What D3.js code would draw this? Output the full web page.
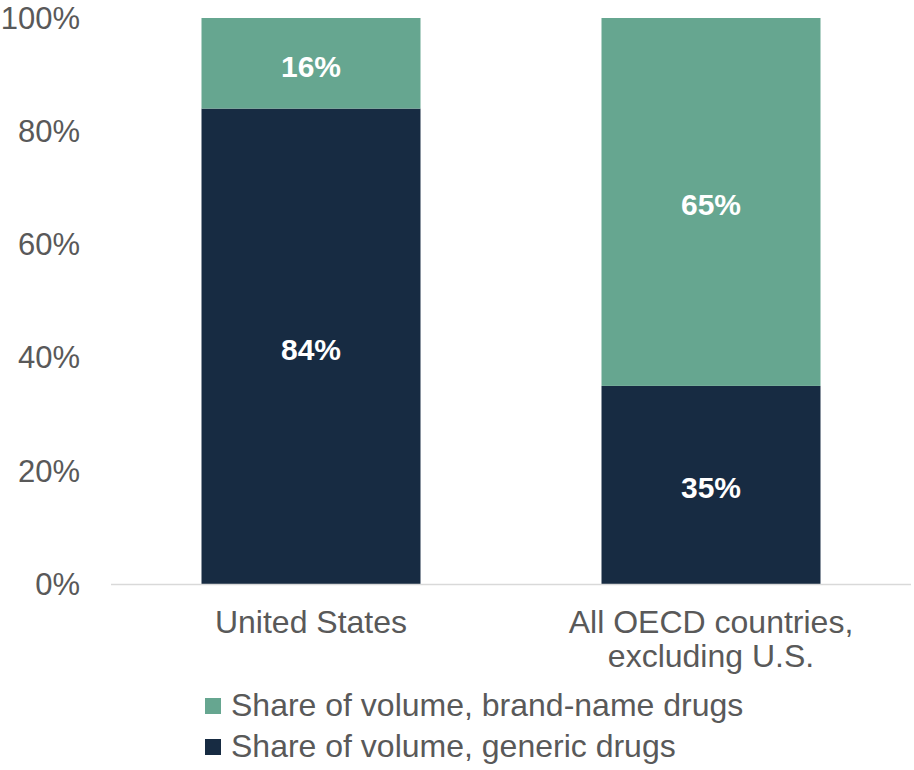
<!DOCTYPE html>
<html>
<head>
<meta charset="utf-8">
<script src="https://cdn.jsdelivr.net/npm/d3@7"></script>
<style>
  body { margin: 0; background: #fff; }
  text { font-family: "Liberation Sans", Arial, sans-serif; }
  .tick-text { fill: #595959; font-size: 31px; }
  .cat-text, .legend-text { fill: #595959; font-size: 32px; }
  .bar-label { fill: #fff; font-size: 30px; font-weight: bold; }
</style>
</head>
<body>
<svg id="chart" width="914" height="770"></svg>
<script>
// data
var categories = [["United States"], ["All OECD countries,", "excluding U.S."]];
var generic = [84, 35];
var brand = [16, 65];
var seriesNames = ["Share of volume, brand-name drugs", "Share of volume, generic drugs"];
var yTicks = [0, 20, 40, 60, 80, 100];

var colors = { brand: "#66a690", generic: "#172b42" };

var svg = d3.select("#chart");
var plotLeft = 111, plotRight = 911, plotTop = 18, plotBottom = 584;

var x = d3.scaleBand()
    .domain(d3.range(categories.length))
    .range([plotLeft, plotRight])
    .paddingInner(0.4525)
    .paddingOuter(0.22625);

var y = d3.scaleLinear().domain([0, 100]).range([plotBottom, plotTop]);

// y tick labels
svg.append("g")
    .selectAll("text")
    .data(yTicks)
    .join("text")
    .attr("class", "tick-text")
    .attr("text-anchor", "end")
    .attr("x", 80)
    .attr("y", function(d) { return y(d); })
    .attr("dy", "0.35em")
    .text(function(d) { return d + "%"; });

//bars
var rows = categories.map(function(c, i) { return { i: i, generic: generic[i], brand: brand[i] }; });
var stack = d3.stack().keys(["generic", "brand"])(rows);

var layers = svg.append("g")
    .selectAll("g")
    .data(stack)
    .join("g")
    .attr("fill", function(d) { return colors[d.key]; });

layers.selectAll("rect")
    .data(function(d) { return d; })
    .join("rect")
    .attr("x", function(d) { return x(d.data.i); })
    .attr("width", x.bandwidth())
    .attr("y", function(d) { return y(d[1]); })
    .attr("height", function(d) { return y(d[0]) - y(d[1]); });

layers.selectAll("text")
    .data(function(d) { return d; })
    .join("text")
    .attr("class", "bar-label")
    .attr("text-anchor", "middle")
    .attr("x", function(d) { return x(d.data.i) + x.bandwidth() / 2; })
    .attr("y", function(d) { return (y(d[0]) + y(d[1])) / 2; })
    .attr("dy", "0.45em")
    .text(function(d) { return (d[1] - d[0]) + "%"; });

// axis line
svg.append("line")
    .attr("x1", plotLeft).attr("x2", plotRight)
    .attr("y1", plotBottom + 0.5).attr("y2", plotBottom + 0.5)
    .attr("stroke", "#d9d9d9")
    .attr("stroke-width", 1.5);

// category labels
svg.append("g")
    .selectAll("text")
    .data(categories)
    .join("text")
    .attr("class", "cat-text")
    .attr("text-anchor", "middle")
    .attr("x", function(d, i) { return x(i) + x.bandwidth() / 2; })
    .attr("y", 633)
    .each(function(d) {
        var t = d3.select(this);
        d.forEach(function(line, j) {
            t.append("tspan")
                .attr("x", t.attr("x"))
                .attr("dy", j === 0 ? 0 : 34)
                .text(line);
        });
    });

// legend
var legend = svg.append("g")
    .selectAll("g")
    .data(seriesNames)
    .join("g")
    .attr("transform", function(d, i) { return "translate(205," + (698 + i * 41) + ")"; });

legend.append("rect")
    .attr("width", 16).attr("height", 16)
    .attr("fill", function(d, i) { return i === 0 ? colors.brand : colors.generic; });

legend.append("text")
    .attr("class", "legend-text")
    .attr("x", 26)
    .attr("y", 18)
    .text(function(d) { return d; });
</script>
</body>
</html>
